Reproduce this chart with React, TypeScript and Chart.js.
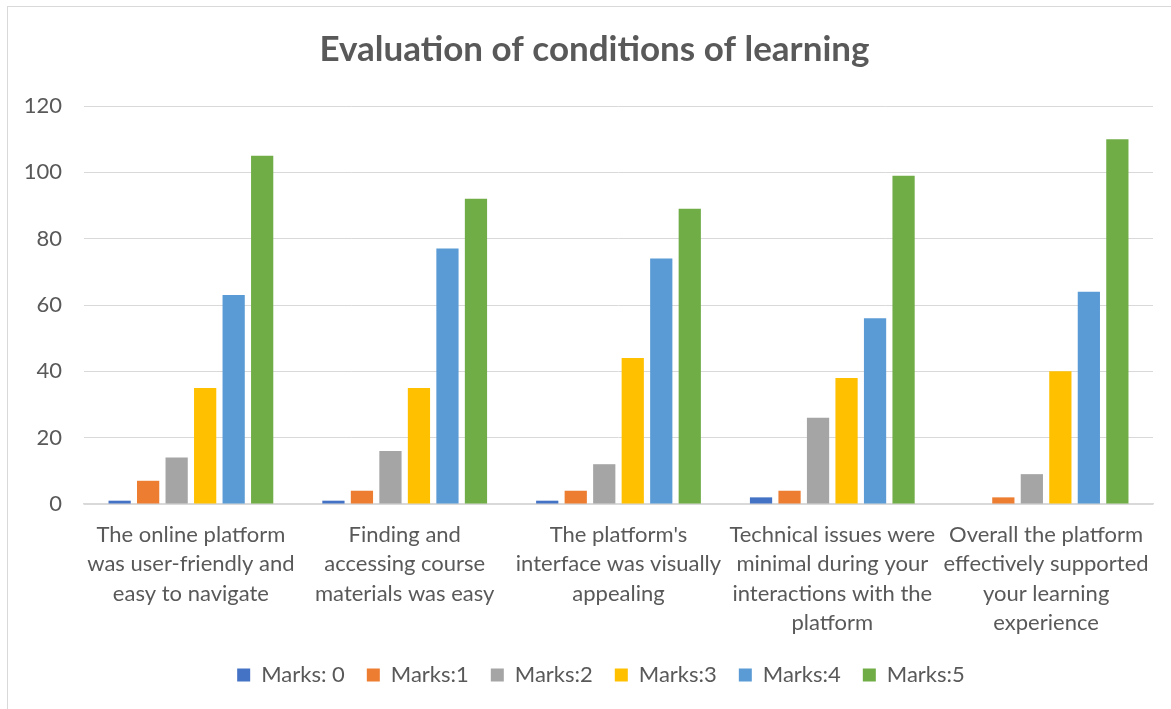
import React, { useEffect, useRef } from "react";
import { Chart, registerables } from "chart.js";

Chart.register(...registerables);

const titleText = "Evaluation of conditions of learning";
const categories = [
  ["The online platform", "was user-friendly and", "easy to navigate"],
  ["Finding and", "accessing course", "materials was easy"],
  ["The platform's", "interface was visually", "appealing"],
  ["Technical issues were", "minimal during your", "interactions with the", "platform"],
  ["Overall the platform", "effectively supported", "your learning", "experience"],
];
const seriesLabels = ["Marks: 0", "Marks:1", "Marks:2", "Marks:3", "Marks:4", "Marks:5"];
const marks0 = [1, 1, 1, 2, 0];
const marks1 = [7, 4, 4, 4, 2];
const marks2 = [14, 16, 12, 26, 9];
const marks3 = [35, 35, 44, 38, 40];
const marks4 = [63, 77, 74, 56, 64];
const marks5 = [105, 92, 89, 99, 110];
const seriesValues = [marks0, marks1, marks2, marks3, marks4, marks5];
const seriesColors = ["#4472C4", "#ED7D31", "#A5A5A5", "#FFC000", "#5B9BD5", "#70AD47"];
const yMin = 0;
const yMax = 120;
const yStep = 20;

const TEXT = "#595959";
const FONT = "Lato";

export default function App() {
  const ref = useRef<HTMLCanvasElement | null>(null);

  useEffect(() => {
    if (!ref.current) return;
    const titlePlugin = {
      id: "customTitle",
      afterDraw(chart: any) {
        const ctx = chart.ctx;
        ctx.save();
        ctx.font = `bold 35px ${FONT}`;
        ctx.fillStyle = TEXT;
        ctx.textAlign = "center";
        ctx.textBaseline = "middle";
        ctx.fillText(titleText, 594.5, 50);
        ctx.restore();
      },
    };
    const legendShift = {
      id: "legendShift",
      beforeDraw(chart: any) {
        const lg = chart.legend;
        if (lg) {
          lg.left += 24.5;
          lg.right += 24.5;
        }
      },
    };
    const chart = new Chart(ref.current, {
      type: "bar",
      data: {
        labels: categories,
        datasets: seriesLabels.map((label, i) => ({
          label,
          data: seriesValues[i],
          backgroundColor: seriesColors[i],
          borderWidth: 0,
          categoryPercentage: 0.8,
          barPercentage: 0.78,
        })),
      },
      options: {
        responsive: false,
        animation: false,
        devicePixelRatio: 1,
        layout: { padding: { top: 106, left: 0, right: 18, bottom: 13 } },
        plugins: {
          title: { display: false },
          tooltip: { enabled: false },
          legend: {
            position: "bottom",
            labels: {
              boxWidth: 13,
              boxHeight: 13,
              padding: 22,
              color: TEXT,
              font: { family: FONT, size: 22 },
            },
          },
        },
        scales: {
          x: {
            grid: { display: false, drawTicks: false },
            border: { display: true, color: "#d9d9d9", width: 1.5 },
            ticks: {
              color: TEXT,
              font: { family: FONT, size: 22, lineHeight: 1.34 },
              padding: 16,
              maxRotation: 0,
              minRotation: 0,
              autoSkip: false,
            },
            afterFit(scale: any) {
              scale.height = 138;
            },
          },
          y: {
            min: yMin,
            max: yMax,
            grid: { color: "#d9d9d9", lineWidth: 1, drawTicks: false },
            border: { display: false },
            ticks: {
              stepSize: yStep,
              color: TEXT,
              font: { family: FONT, size: 22 },
              padding: 22,
            },
            afterFit(scale: any) {
              scale.width = 84;
            },
          },
        },
      },
      plugins: [titlePlugin, legendShift],
    });
    return () => chart.destroy();
  }, []);

  return (
    <div style={{ position: "fixed", left: 0, top: 0, width: 1171, height: 709, background: "#fff" }}>
      <div
        style={{
          position: "absolute",
          left: 7,
          top: 6,
          width: 1180,
          height: 720,
          borderLeft: "1.5px solid #d9d9d9",
          borderTop: "1.5px solid #d9d9d9",
        }}
      />
      <canvas ref={ref} width={1171} height={709} style={{ position: "absolute", left: 0, top: 0 }} />
    </div>
  );
}
